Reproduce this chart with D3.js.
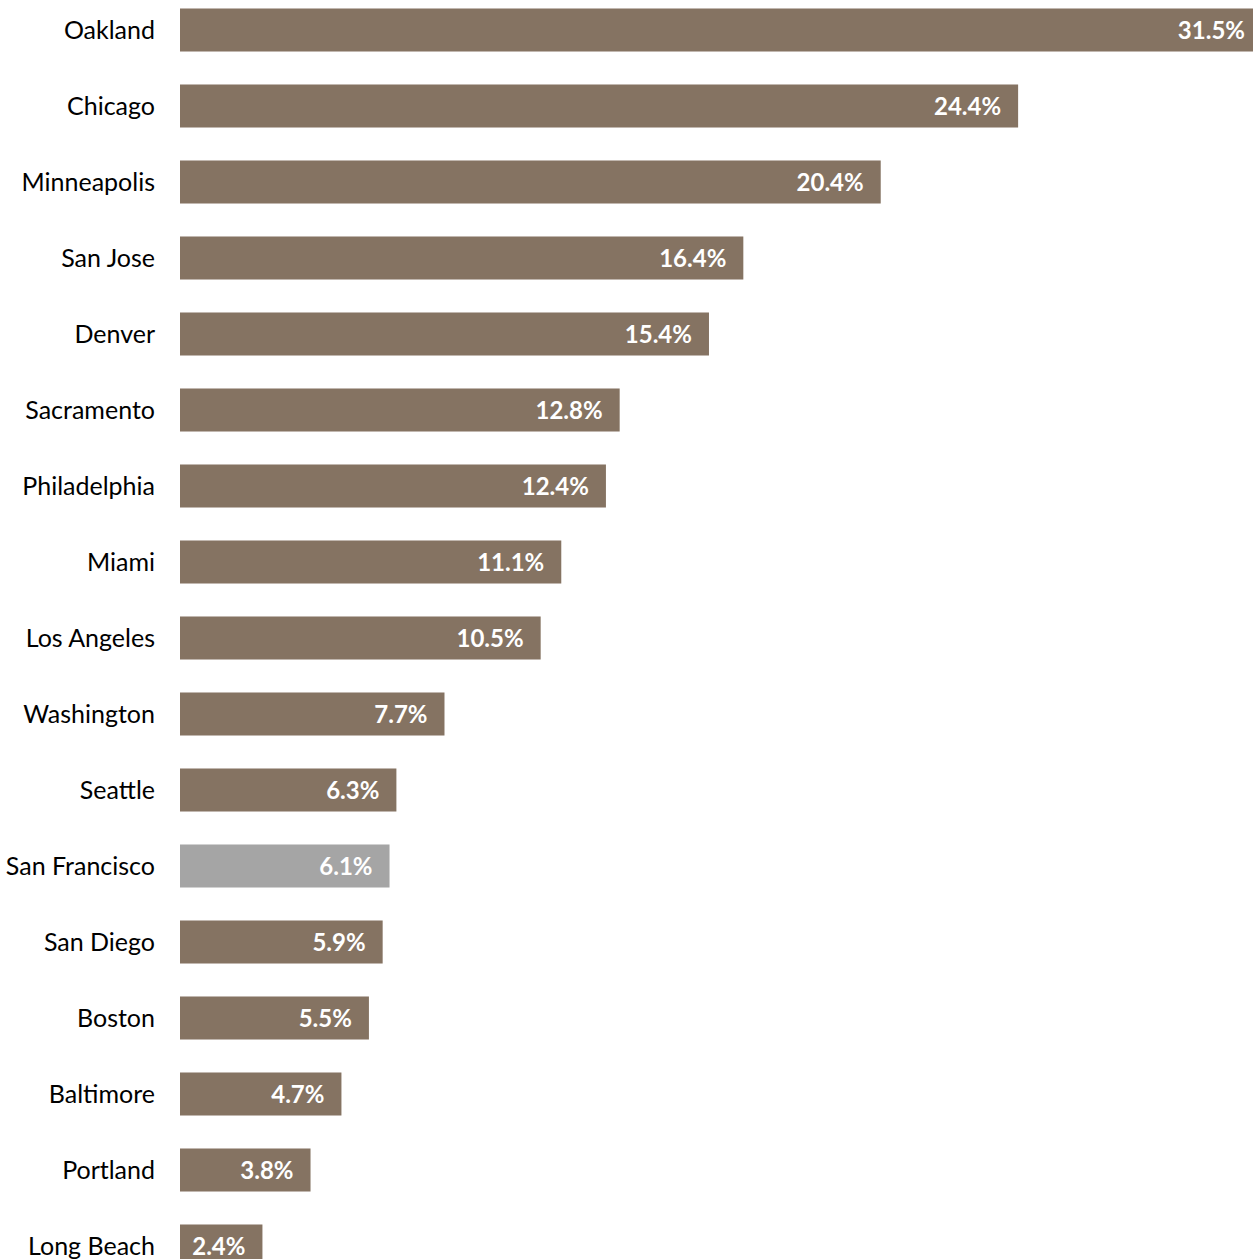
<!DOCTYPE html>
<html>
<head>
<meta charset="utf-8">
<script src="https://cdn.jsdelivr.net/npm/d3@7"></script>
<style>
  html, body { margin: 0; padding: 0; background: #fff; overflow: hidden; }
  svg { display: block; }
</style>
</head>
<body>
<svg id="chart" width="1253" height="1259"></svg>
<script>
const cities = ["Oakland", "Chicago", "Minneapolis", "San Jose", "Denver", "Sacramento",
  "Philadelphia", "Miami", "Los Angeles", "Washington", "Seattle", "San Francisco",
  "San Diego", "Boston", "Baltimore", "Portland", "Long Beach"];
const shares = [31.5, 24.4, 20.4, 16.4, 15.4, 12.8, 12.4, 11.1, 10.5, 7.7, 6.3, 6.1, 5.9, 5.5, 4.7, 3.8, 2.4];
const highlight = ["San Francisco"];

const svg = d3.select("#chart");
const font = "Lato, 'Open Sans', sans-serif";

const x = d3.scaleLinear().domain([0, 31.5]).range([180, 1262]);
const y = d3.scaleBand().domain(cities).range([-8, -8 + cities.length * 76])
  .paddingInner(0.434).paddingOuter(0.217);

const data = cities.map((c, i) => ({ city: c, value: shares[i] }));

svg.append("g").selectAll("rect").data(data).join("rect")
  .attr("x", x(0))
  .attr("y", d => y(d.city))
  .attr("width", d => x(d.value) - x(0))
  .attr("height", y.bandwidth())
  .attr("fill", d => highlight.includes(d.city) ? "#a5a5a5" : "#857362");

svg.append("g").selectAll("text").data(data).join("text")
  .attr("x", d => x(d.value) - 17)
  .attr("y", d => y(d.city) + y.bandwidth() / 2)
  .attr("dy", "0.36em")
  .attr("text-anchor", "end")
  .attr("fill", "#fff")
  .attr("font-family", font)
  .attr("font-weight", "bold")
  .attr("font-size", 24)
  .text(d => d.value.toFixed(1) + "%");

const yAxis = d3.axisLeft(y).tickSize(0).tickPadding(25);
const ag = svg.append("g").attr("transform", `translate(${x(0)},0)`).call(yAxis);
ag.select(".domain").remove();
ag.selectAll("text")
  .attr("fill", "#000")
  .attr("font-family", font)
  .attr("font-size", 25)
  .attr("dy", "0.36em");
</script>
</body>
</html>
